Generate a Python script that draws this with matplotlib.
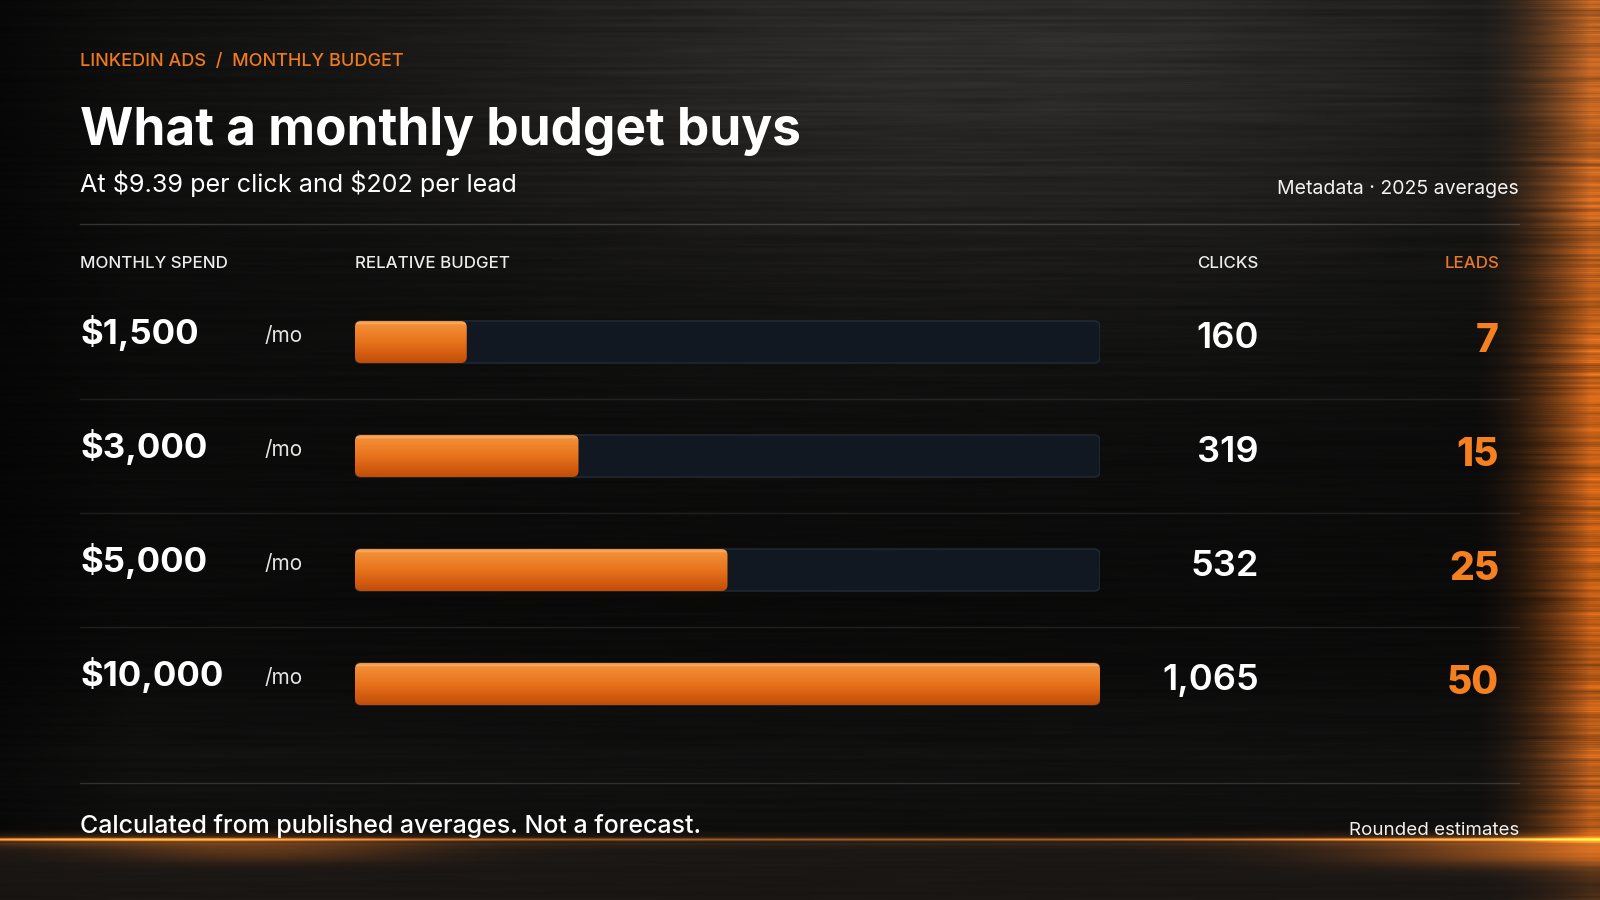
import numpy as np
import matplotlib

matplotlib.use("Agg")
import matplotlib.pyplot as plt
from matplotlib.patches import FancyBboxPatch
from matplotlib.transforms import blended_transform_factory

# chart data
spend = [1500, 3000, 5000, 10000]
clicks = [160, 319, 532, 1065]
leads = [7, 15, 25, 50]

kicker = "LINKEDIN ADS  /  MONTHLY BUDGET"
title = "What a monthly budget buys"
subtitle = "At $9.39 per click and $202 per lead"
meta = "Metadata \u00b7 2025 averages"
headers = ["MONTHLY SPEND", "RELATIVE BUDGET", "CLICKS", "LEADS"]
footer_left = "Calculated from published averages. Not a forecast."
footer_right = "Rounded estimates"

W, H = 1600, 900
ORANGE = "#f5801f"
plt.rcParams["font.family"] = ["Inter", "DejaVu Sans"]
plt.rcParams["text.parse_math"] = False


def _hash(a):
    v = np.sin(a * 12.9898 + 4.1414) * 43758.5453
    return v - np.floor(v)


def _smooth_rows(arr, k=3):
    kernel = np.ones(k) / k
    pad = np.pad(arr, ((k // 2, k // 2), (0, 0)), mode="edge")
    out = np.zeros_like(arr)
    for j in range(k):
        out += kernel[j] * pad[j:j + arr.shape[0]]
    return out


def brushed_background():
    yy, xx = np.mgrid[0:H, 0:W].astype(float)
    rows = np.arange(H, dtype=float)

    # fine per-row streaks plus slowly varying segments along x
    row_n = _hash(rows * 1.37)
    seg = 70.0
    ncols = int(W / seg) + 2
    coarse = _hash(rows[:, None] * 3.11 + np.arange(ncols)[None, :] * 17.3)
    pos = xx / seg
    i0 = np.floor(pos).astype(int)
    t = pos - i0
    c0 = np.take_along_axis(coarse, i0, axis=1)
    c1 = np.take_along_axis(coarse, i0 + 1, axis=1)
    seg_n = c0 * (1 - t) + c1 * t
    tex = 0.5 * row_n[:, None] + 0.5 * seg_n
    tex = _smooth_rows(tex, 3)

    lum = 0.04 + 0.13 * np.exp(-((xx - 1000) / 650) ** 2) * np.exp(-((yy - 30) / 270) ** 2)
    lum += 0.025 * np.exp(-((yy - 770) / 80) ** 2)
    lum *= 0.7 + 0.6 * tex
    lum *= np.clip(0.55 + xx / 300, 0, 1)

    img = np.stack([lum * 1.02, lum * 0.99, lum * 0.96], axis=-1)

    glow_col = np.array([1.0, 0.46, 0.07])
    # right-hand brushed orange glow
    g = np.clip((xx - 1470) / 120, 0, 1) ** 2
    g *= 0.45 + 0.75 * tex
    g *= 0.8 + 0.2 * np.exp(-((yy - 450) / 500) ** 2)
    img += g[..., None] * glow_col * 0.85

    # bottom band below the glowing line
    below = yy > 842
    img[below] = img[below] * 0.3 + np.array([0.09, 0.078, 0.07]) * (0.85 + 0.25 * tex[below, None])

    # glowing horizontal line
    line_int = 0.45 + 0.6 * (np.exp(-((xx - 120) / 260) ** 2) + np.exp(-((xx - 1580) / 300) ** 2))
    line = line_int * np.exp(-((yy - 839) / 1.3) ** 2)
    halo = line_int * 0.25 * np.exp(-((yy - 840) / 6) ** 2)
    under_r = 0.55 * np.exp(-((xx - 1600) / 220) ** 2) * np.exp(-((yy - 852) / 14) ** 2)
    under_l = 0.25 * np.exp(-((xx - 260) / 170) ** 2) * np.exp(-((yy - 850) / 12) ** 2)
    img += (line + halo)[..., None] * np.array([1.0, 0.55, 0.18])
    img += (under_r + under_l)[..., None] * glow_col

    return np.clip(img, 0, 1)


fig = plt.figure(figsize=(16, 9), dpi=100)
fig.patch.set_facecolor("#0b0b0b")

ax_bg = fig.add_axes([0, 0, 1, 1])
ax_bg.imshow(brushed_background(), extent=(0, W, H, 0), aspect="auto", zorder=0)
ax_bg.set_xlim(0, W)
ax_bg.set_ylim(H, 0)
ax_bg.axis("off")

# bar axes: one row per spend level, rows 114 px apart starting at y=342
row0, pitch = 342, 114
n = len(spend)
top_px = row0 - pitch / 2
bot_px = row0 + pitch * (n - 0.5)
ax = fig.add_axes([355 / W, 1 - bot_px / H, 745 / W, (bot_px - top_px) / H])
ax.set_xlim(0, max(spend))
ax.set_ylim(n - 0.5, -0.5)
ax.axis("off")

bar_h = 42 / pitch
x_per_px = max(spend) / 745
y_per_px = 1 / pitch
aspect = y_per_px / x_per_px
radius = 6 * x_per_px

grad_top = np.array([0.96, 0.58, 0.24])
grad_mid = np.array([0.91, 0.45, 0.11])
grad_bot = np.array([0.76, 0.30, 0.03])
tt = np.linspace(0, 1, 64)[:, None]
grad = np.where(tt < 0.5, grad_top + (grad_mid - grad_top) * tt / 0.5,
                grad_mid + (grad_bot - grad_mid) * (tt - 0.5) / 0.5)
grad[2:5] = np.array([0.98, 0.66, 0.36])
grad = grad[:, None, :]

for i, val in enumerate(spend):
    track = FancyBboxPatch((0, i - bar_h / 2), max(spend), bar_h,
                           boxstyle=f"round,pad=0,rounding_size={radius}",
                           mutation_aspect=aspect, facecolor="#111821",
                           edgecolor="#1f2833", linewidth=1.2, zorder=1)
    ax.add_patch(track)
    clip = FancyBboxPatch((0, i - bar_h / 2), val, bar_h,
                          boxstyle=f"round,pad=0,rounding_size={radius}",
                          mutation_aspect=aspect, facecolor="none",
                          edgecolor="none", zorder=2)
    ax.add_patch(clip)
    im = ax.imshow(grad, extent=(0, val, i + bar_h / 2, i - bar_h / 2),
                   aspect="auto", origin="upper", zorder=2)
    im.set_clip_path(clip)

ax.set_xlim(0, max(spend))
ax.set_ylim(n - 0.5, -0.5)

# text rows follow the bar rows
rows_tf = blended_transform_factory(ax_bg.transData, ax.transData)
for i in range(n):
    ax_bg.text(80, i - 0.08, f"${spend[i]:,}", transform=rows_tf, fontsize=25,
               fontweight="bold", color="white", va="center", ha="left")
    ax_bg.text(265, i - 0.05, "/mo", transform=rows_tf, fontsize=15,
               color="#e4e4e4", va="center", ha="left")
    ax_bg.text(1259, i - 0.03, f"{clicks[i]:,}", transform=rows_tf, fontsize=26,
               fontweight="semibold", color="white", va="center", ha="right")
    ax_bg.text(1499, i - 0.005, f"{leads[i]:,}", transform=rows_tf, fontsize=28,
               fontweight="heavy", color=ORANGE, va="center", ha="right")
    if i < n - 1:
        ax_bg.plot([80, 1519], [i + 0.5, i + 0.5], transform=rows_tf,
                   color="white", alpha=0.09, lw=1)

# header block
ax_bg.text(80, 61, kicker, fontsize=13, fontweight="medium", color="#ee7a1e",
           va="center", ha="left")
ax_bg.text(80, 145, title, fontsize=37, fontweight="bold", color="white",
           va="baseline", ha="left")
ax_bg.text(80, 192, subtitle, fontsize=18.1, color="white", va="baseline", ha="left")
ax_bg.text(1519, 194, meta, fontsize=14, color="#f2f2f2", va="baseline", ha="right")
ax_bg.plot([80, 1519], [224, 224], color="white", alpha=0.16, lw=1)

head_x = [80, 355, 1259, 1499]
head_ha = ["left", "left", "right", "right"]
head_col = ["#ececec", "#ececec", "#ececec", "#e8782a"]
for label, hx, ha, col in zip(headers, head_x, head_ha, head_col):
    ax_bg.text(hx, 263, label, fontsize=12.2, fontweight="medium", color=col,
               va="center", ha=ha)

# footer
ax_bg.plot([80, 1519], [783, 783], color="white", alpha=0.14, lw=1)
ax_bg.text(80, 833, footer_left, fontsize=18, fontweight="medium", color="white",
           va="baseline", ha="left")
ax_bg.text(1519, 835, footer_right, fontsize=13.5, color="#f0f0f0", va="baseline", ha="right")

fig.savefig("out.png", dpi=100, facecolor=fig.get_facecolor())
plt.close(fig)
